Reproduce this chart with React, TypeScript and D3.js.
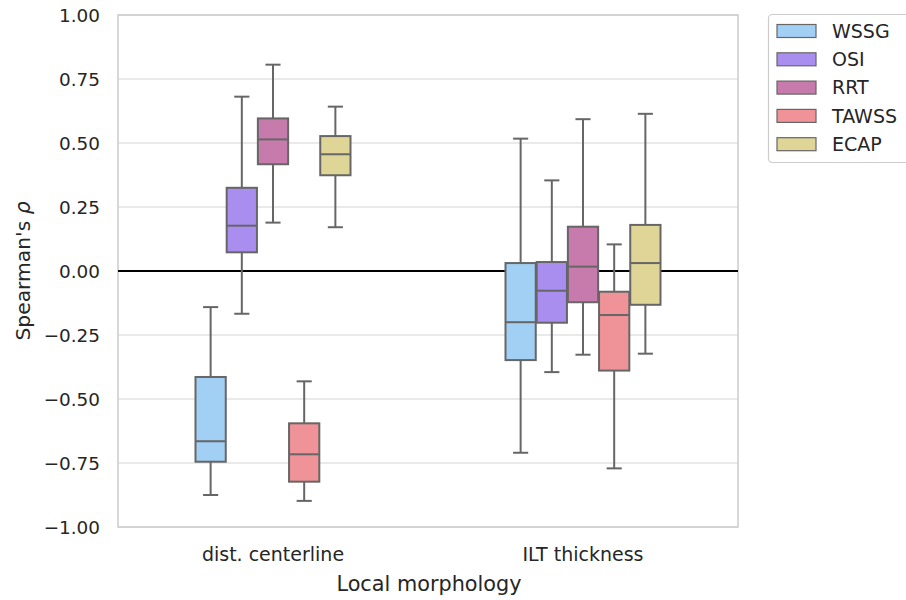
import React from "react";
import * as d3 from "d3";

const categories = ["dist. centerline", "ILT thickness"];
const metrics = ["WSSG", "OSI", "RRT", "TAWSS", "ECAP"];
const colors = ["#a2cff4", "#aa8eef", "#c67bac", "#f09398", "#ded597"];
// [whiskerLow, q1, median, q3, whiskerHigh] per metric per category
const distCenterline = [
  [-0.875, -0.745, -0.665, -0.414, -0.141],
  [-0.167, 0.073, 0.177, 0.325, 0.681],
  [0.189, 0.417, 0.514, 0.596, 0.806],
  [-0.898, -0.823, -0.716, -0.595, -0.431],
  [0.171, 0.374, 0.456, 0.527, 0.642],
];
const iltThickness = [
  [-0.71, -0.348, -0.2, 0.031, 0.517],
  [-0.395, -0.202, -0.077, 0.035, 0.354],
  [-0.327, -0.122, 0.017, 0.173, 0.593],
  [-0.771, -0.389, -0.172, -0.081, 0.104],
  [-0.323, -0.132, 0.031, 0.18, 0.614],
];
const seriesByCategory = [distCenterline, iltThickness];
const yTicks = [-1, -0.75, -0.5, -0.25, 0, 0.25, 0.5, 0.75, 1];

const W = 906, H = 600;
const left = 118, right = 738, top = 15, bottom = 527;
const font = "DejaVu Sans, sans-serif";
const textColor = "#262626";
const edge = "#666666";

export default function App() {
  const y = d3.scaleLinear().domain([-1, 1]).range([bottom, top]);
  const x = d3.scaleBand().domain(categories).range([left, right]);
  const inner = d3
    .scaleBand()
    .domain(metrics)
    .range([0, x.bandwidth() * 0.5])
    .paddingInner(0.03);
  const offset = x.bandwidth() * 0.25;
  const fmt = d3.format(".2f");

  return (
    <svg width={W} height={H} style={{ position: "absolute", left: 0, top: 0, background: "#fff" }} fontFamily={font}>
      {yTicks.map((t) => (
        <line key={"g" + t} x1={left} x2={right} y1={y(t)} y2={y(t)} stroke="#d5d5d5" strokeWidth={1.2} />
      ))}
      <rect x={left} y={top} width={right - left} height={bottom - top} fill="none" stroke="#cccccc" strokeWidth={1.5} />
      {yTicks.map((t) => (
        <text key={"t" + t} x={100} y={y(t)} dy="0.36em" textAnchor="end" fontSize={18.4} fill={textColor}>
          {fmt(t).replace("-", "\u2212")}
        </text>
      ))}
      <line x1={left} x2={right} y1={y(0)} y2={y(0)} stroke="#000" strokeWidth={2.2} />
      {categories.map((c, ci) => (
        <g key={c}>
          {seriesByCategory[ci].map((v, mi) => {
            const x0 = (x(c) as number) + offset + (inner(metrics[mi]) as number);
            const bw = inner.bandwidth();
            const cx = x0 + bw / 2;
            const cap = bw * 0.25;
            const [lo, q1, med, q3, hi] = v;
            return (
              <g key={mi} stroke={edge} strokeWidth={2}>
                <line x1={cx} x2={cx} y1={y(hi)} y2={y(q3)} />
                <line x1={cx} x2={cx} y1={y(q1)} y2={y(lo)} />
                <line x1={cx - cap} x2={cx + cap} y1={y(hi)} y2={y(hi)} />
                <line x1={cx - cap} x2={cx + cap} y1={y(lo)} y2={y(lo)} />
                <rect x={x0} y={y(q3)} width={bw} height={y(q1) - y(q3)} fill={colors[mi]} />
                <line x1={x0} x2={x0 + bw} y1={y(med)} y2={y(med)} />
              </g>
            );
          })}
          <text x={(x(c) as number) + x.bandwidth() / 2} y={561} textAnchor="middle" fontSize={19} fill={textColor}>
            {c}
          </text>
        </g>
      ))}
      <text x={(left + right) / 2 + 1} y={591} textAnchor="middle" fontSize={20.8} fill={textColor}>
        Local morphology
      </text>
      <text transform={`translate(30,${y(0)}) rotate(-90)`} textAnchor="middle" fontSize={20.3} fill={textColor}>
        Spearman's <tspan fontStyle="italic">ρ</tspan>
      </text>
      <g>
        <rect x={768.5} y={14.5} width={150} height={148} rx={4} fill="#fff" stroke="#cccccc" strokeWidth={1.2} />
        {metrics.map((m, i) => {
          const cy = 31 + i * 28.3;
          return (
            <g key={m}>
              <rect x={777} y={cy - 6.5} width={39} height={13} fill={colors[i]} stroke={edge} strokeWidth={1.2} />
              <text x={832} y={cy} dy="0.36em" fontSize={19} fill={textColor}>
                {m}
              </text>
            </g>
          );
        })}
      </g>
    </svg>
  );
}
